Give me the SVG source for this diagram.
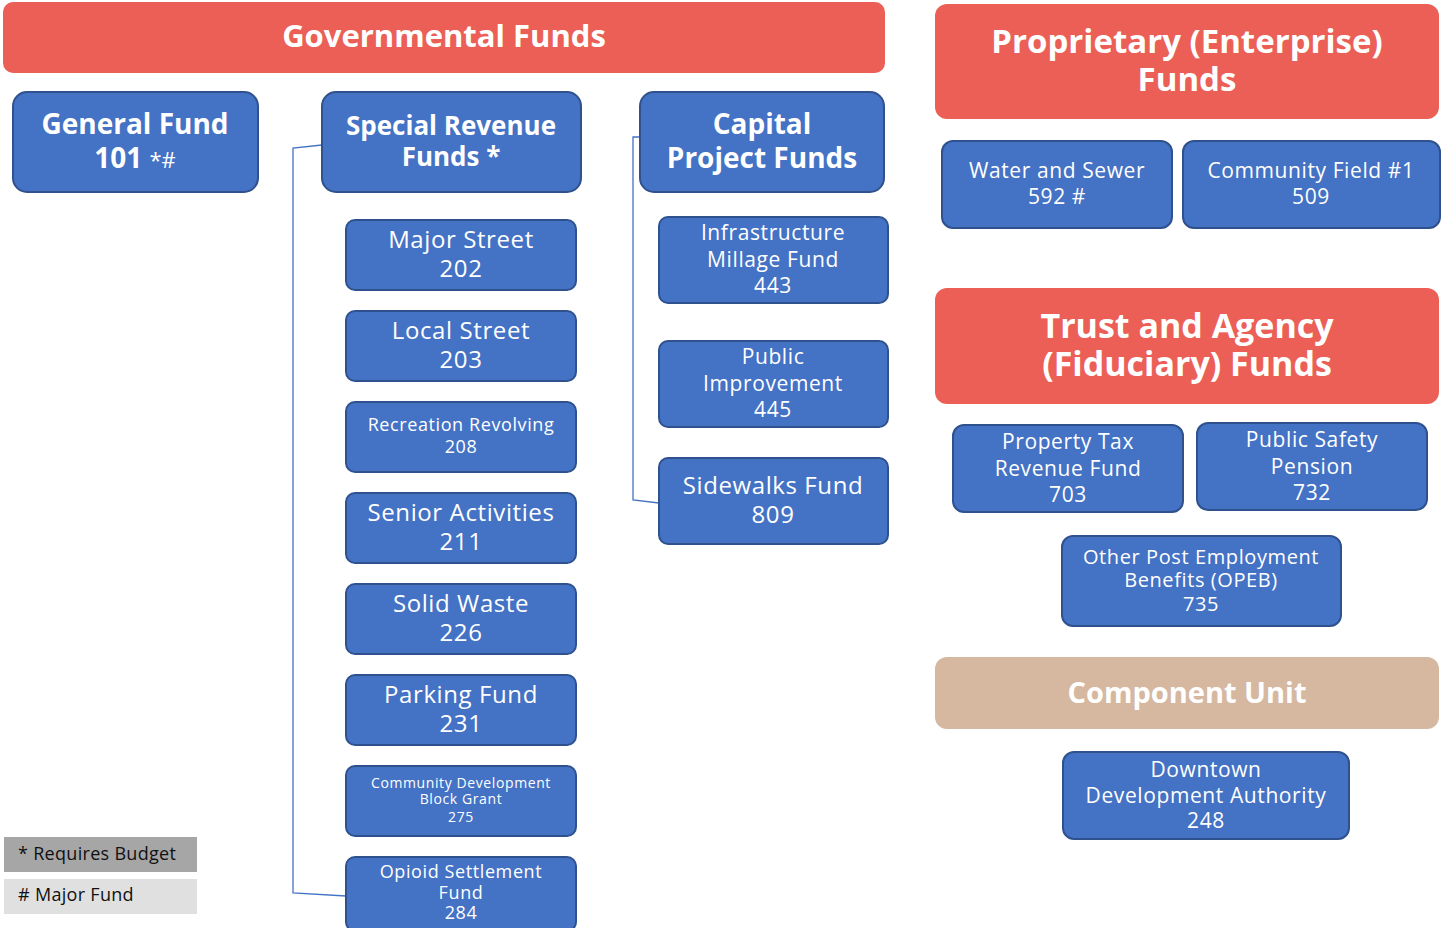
<svg xmlns="http://www.w3.org/2000/svg" width="1442" height="928" viewBox="0 0 1442 928">
<style>
.hdr{fill:#EB5F57;}
.tan{fill:#D5B89F;}
.box{fill:#4472C4;stroke:#2F528F;stroke-width:2;}
.t{font-family:"Open Sans","Liberation Sans",sans-serif;fill:#fff;text-anchor:middle;letter-spacing:0.6px;}
.b{font-weight:bold;letter-spacing:0;}
.conn{fill:none;stroke:#4472C4;stroke-width:1.3;}
.lg{font-family:"Open Sans","Liberation Sans",sans-serif;fill:#111;font-size:18px;letter-spacing:0.3px;}
</style>
<rect width="1442" height="928" fill="#fff"/>
<g id="connectors">
<path class="conn" d="M322,145 L293,148 L293,893 L346,896"/>
<path class="conn" d="M640,137 L633,137 L633,500 L659,503"/>
</g>
<g id="governmental">
<rect class="hdr" x="3" y="2" width="882" height="71" rx="10"/>
<text class="t b" x="444" y="47" font-size="31" letter-spacing="1.3">Governmental Funds</text>
</g>
<g id="general-fund">
<rect class="box" x="13" y="92" width="245" height="100" rx="14"/>
<text class="t b" font-size="28"><tspan x="135" y="134">General Fund</tspan><tspan x="135" y="168">101 <tspan font-weight="normal" font-size="22">*#</tspan></tspan></text>
</g>
<g id="special-revenue">
<rect class="box" x="322" y="92" width="259" height="100" rx="14"/>
<text class="t b" font-size="26"><tspan x="451" y="135">Special Revenue</tspan><tspan x="451" y="166">Funds *</tspan></text>
</g>
<g id="capital-project">
<rect class="box" x="640" y="92" width="244" height="100" rx="14"/>
<text class="t b" font-size="28"><tspan x="762" y="134">Capital</tspan><tspan x="762" y="168">Project Funds</tspan></text>
</g>
<g id="major-street">
<rect class="box" x="346" y="220" width="230" height="70" rx="9"/>
<text class="t" font-size="24"><tspan x="461" y="248">Major Street</tspan><tspan x="461" y="277">202</tspan></text>
</g>
<g id="local-street">
<rect class="box" x="346" y="311" width="230" height="70" rx="9"/>
<text class="t" font-size="24"><tspan x="461" y="339">Local Street</tspan><tspan x="461" y="368">203</tspan></text>
</g>
<g id="recreation-revolving">
<rect class="box" x="346" y="402" width="230" height="70" rx="9"/>
<text class="t" font-size="18"><tspan x="461" y="431">Recreation Revolving</tspan><tspan x="461" y="453">208</tspan></text>
</g>
<g id="senior-activities">
<rect class="box" x="346" y="493" width="230" height="70" rx="9"/>
<text class="t" font-size="24"><tspan x="461" y="521">Senior Activities</tspan><tspan x="461" y="550">211</tspan></text>
</g>
<g id="solid-waste">
<rect class="box" x="346" y="584" width="230" height="70" rx="9"/>
<text class="t" font-size="24"><tspan x="461" y="612">Solid Waste</tspan><tspan x="461" y="641">226</tspan></text>
</g>
<g id="parking-fund">
<rect class="box" x="346" y="675" width="230" height="70" rx="9"/>
<text class="t" font-size="24"><tspan x="461" y="703">Parking Fund</tspan><tspan x="461" y="732">231</tspan></text>
</g>
<g id="cdbg">
<rect class="box" x="346" y="766" width="230" height="70" rx="9"/>
<text class="t" font-size="14" letter-spacing="0.4"><tspan x="461" y="788">Community Development</tspan><tspan x="461" y="804">Block Grant</tspan><tspan x="461" y="822">275</tspan></text>
</g>
<g id="opioid">
<rect class="box" x="346" y="857" width="230" height="74" rx="9"/>
<text class="t" font-size="18"><tspan x="461" y="878">Opioid Settlement</tspan><tspan x="461" y="899">Fund</tspan><tspan x="461" y="919">284</tspan></text>
</g>
<g id="infrastructure">
<rect class="box" x="659" y="217" width="229" height="86" rx="9"/>
<text class="t" font-size="21" letter-spacing="0.9"><tspan x="773" y="240">Infrastructure</tspan><tspan x="773" y="267">Millage Fund</tspan><tspan x="773" y="293">443</tspan></text>
</g>
<g id="public-improvement">
<rect class="box" x="659" y="341" width="229" height="86" rx="9"/>
<text class="t" font-size="21" letter-spacing="0.9"><tspan x="773" y="364">Public</tspan><tspan x="773" y="391">Improvement</tspan><tspan x="773" y="417">445</tspan></text>
</g>
<g id="sidewalks">
<rect class="box" x="659" y="458" width="229" height="86" rx="9"/>
<text class="t" font-size="24"><tspan x="773" y="494">Sidewalks Fund</tspan><tspan x="773" y="523">809</tspan></text>
</g>
<g id="proprietary">
<rect class="hdr" x="935" y="4" width="504" height="115" rx="12"/>
<text class="t b" font-size="33"><tspan x="1187" y="53">Proprietary (Enterprise)</tspan><tspan x="1187" y="91">Funds</tspan></text>
</g>
<g id="water-sewer">
<rect class="box" x="942" y="141" width="230" height="87" rx="11"/>
<text class="t" font-size="21" letter-spacing="1"><tspan x="1057" y="178">Water and Sewer</tspan><tspan x="1057" y="204">592 #</tspan></text>
</g>
<g id="community-field">
<rect class="box" x="1183" y="141" width="257" height="87" rx="11"/>
<text class="t" font-size="21" letter-spacing="1"><tspan x="1311" y="178">Community Field #1</tspan><tspan x="1311" y="204">509</tspan></text>
</g>
<g id="trust-agency">
<rect class="hdr" x="935" y="288" width="504" height="116" rx="12"/>
<text class="t b" font-size="34"><tspan x="1187" y="338">Trust and Agency</tspan><tspan x="1187" y="376">(Fiduciary) Funds</tspan></text>
</g>
<g id="property-tax">
<rect class="box" x="953" y="425" width="230" height="87" rx="11"/>
<text class="t" font-size="21" letter-spacing="0.9"><tspan x="1068" y="449">Property Tax</tspan><tspan x="1068" y="476">Revenue Fund</tspan><tspan x="1068" y="502">703</tspan></text>
</g>
<g id="public-safety">
<rect class="box" x="1197" y="423" width="230" height="87" rx="11"/>
<text class="t" font-size="21" letter-spacing="0.9"><tspan x="1312" y="447">Public Safety</tspan><tspan x="1312" y="474">Pension</tspan><tspan x="1312" y="500">732</tspan></text>
</g>
<g id="opeb">
<rect class="box" x="1062" y="536" width="279" height="90" rx="11"/>
<text class="t" font-size="20" letter-spacing="0.6"><tspan x="1201" y="564">Other Post Employment</tspan><tspan x="1201" y="587">Benefits (OPEB)</tspan><tspan x="1201" y="611">735</tspan></text>
</g>
<g id="component-unit">
<rect class="tan" x="935" y="657" width="504" height="72" rx="12"/>
<text class="t b" x="1187" y="703" font-size="29">Component Unit</text>
</g>
<g id="downtown">
<rect class="box" x="1063" y="752" width="286" height="87" rx="11"/>
<text class="t" font-size="21" letter-spacing="0.8"><tspan x="1206" y="777">Downtown</tspan><tspan x="1206" y="803">Development Authority</tspan><tspan x="1206" y="828">248</tspan></text>
</g>
<g id="legend">
<rect x="4" y="837" width="193" height="35" fill="#A6A6A6"/>
<rect x="4" y="879" width="193" height="35" fill="#E0E0E0"/>
<text class="lg" x="18" y="860">* Requires Budget</text>
<text class="lg" x="18" y="901"># Major Fund</text>
</g>
</svg>
